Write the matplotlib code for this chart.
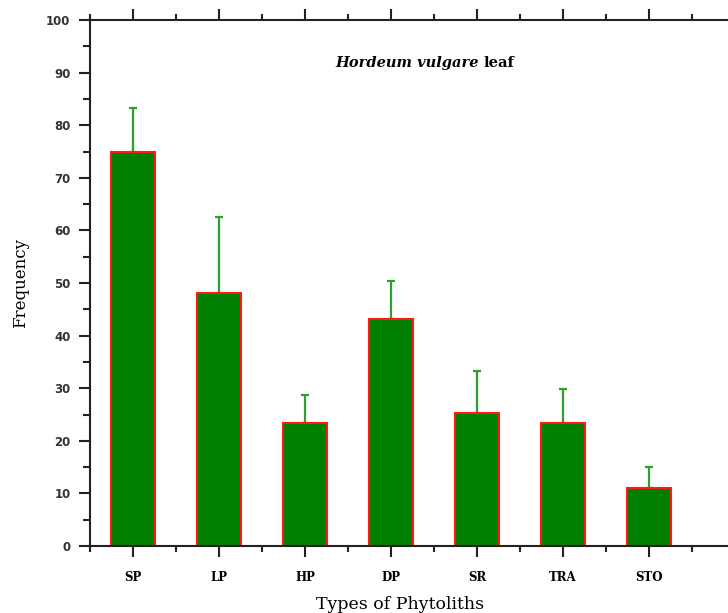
import matplotlib.pyplot as plt
from matplotlib.ticker import MultipleLocator

# data
tipos = ['SP', 'LP', 'HP', 'DP', 'SR', 'TRA', 'STO']
frequencia = [75.0, 48.1, 23.4, 43.2, 25.3, 23.4, 11.0]
erro = [8.3, 14.4, 5.3, 7.2, 8.0, 6.4, 4.0]

fig = plt.figure(figsize=(7.28, 6.13), dpi=100)
# axes run past the right edge of the figure, like the original crop
ax = fig.add_axes([90 / 728, 67 / 613, 688 / 728, 526 / 613])

x = list(range(len(tipos)))
ax.bar(x, frequencia, width=0.51, color='#007f00', edgecolor='#ff1a1a', linewidth=1.5, zorder=2)
ax.errorbar(x, frequencia, yerr=[[0] * len(erro), erro], fmt='none', ecolor='#2ea02e',
            elinewidth=1.6, capsize=3, capthick=1.6, zorder=1)

ax.set_xlim(-0.5, 7.5)
ax.set_ylim(0, 100)
ax.set_xticks(x)
ax.set_xticklabels(tipos, family='DejaVu Serif', fontsize=8.5, fontweight='bold')
ax.xaxis.set_minor_locator(plt.FixedLocator([i - 0.5 for i in range(9)]))
ax.yaxis.set_major_locator(MultipleLocator(10))
ax.yaxis.set_minor_locator(MultipleLocator(5))

for s in ['left', 'bottom', 'top']:
    ax.spines[s].set_linewidth(1.5)
    ax.spines[s].set_color('#222222')
ax.spines['right'].set_visible(False)

ax.tick_params(axis='x', which='both', direction='out', top=True, bottom=True, color='#222222')
ax.tick_params(axis='x', which='major', length=8, width=1.5, pad=10)
ax.tick_params(axis='x', which='minor', length=4, width=1.5)
ax.tick_params(axis='y', which='both', direction='out', right=False, color='#222222')
ax.tick_params(axis='y', which='major', length=8, width=1.5, labelsize=8.5, pad=6)
ax.tick_params(axis='y', which='minor', length=5, width=1.5)
for lab in ax.get_yticklabels():
    lab.set_fontweight('bold')
    lab.set_color('#333333')

ax.set_ylabel('Frequency', family='DejaVu Serif', fontsize=12, labelpad=12)
ax.set_xlabel('Types of Phytoliths', family='DejaVu Serif', fontsize=12.5, labelpad=10)
ax.xaxis.set_label_coords((400 - 90) / 688, -0.095)

# titulo com parte em italico
ax.text(4.02, 91.8, 'Hordeum vulgare', style='italic', fontweight='bold', family='DejaVu Serif',
        fontsize=10.5, ha='right', va='center')
ax.text(4.08, 91.8, 'leaf', family='DejaVu Serif', fontweight='bold', fontsize=10.5,
        ha='left', va='center')

plt.savefig('out.png', dpi=100)
